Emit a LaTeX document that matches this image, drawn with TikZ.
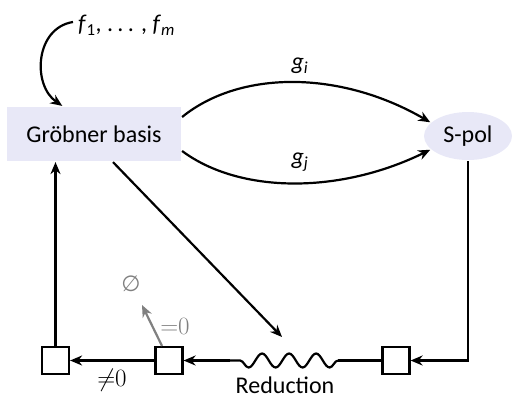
\documentclass[tikz,border=0pt]{standalone}
\usepackage{fontspec}
\setmainfont{Carlito}
\newfontfamily\symbolfont{DejaVu Sans}
\usetikzlibrary{arrows.meta,decorations.pathmorphing,shapes.geometric,calc}
\definecolor{boxfill}{RGB}{232,232,247}
\newcommand{\itsub}[2]{\textit{#1}\textsubscript{#2}}
\begin{document}
\begin{tikzpicture}[x=1pt,y=-1pt,
  font=\fontsize{24}{28}\selectfont,
  line width=2.2pt,
  arr/.style={-{Stealth[length=12pt,width=10pt]}},
  gbox/.style={rectangle,fill=boxfill,minimum width=174pt,minimum height=54pt,inner sep=0pt},
  spolnode/.style={ellipse,fill=boxfill,minimum width=88pt,minimum height=48pt,inner sep=0pt},
  sq/.style={draw,rectangle,fill=white,minimum size=27pt,inner sep=0pt},
  lbl/.style={inner sep=1pt},
  grayarr/.style={arr,draw=black!50},
  wave/.style={decorate,decoration={snake,amplitude=7pt,segment length=27pt}}]
  \useasboundingbox (0,0) rectangle (516,400);

  % main nodes
  \node[gbox] (gb) at (94,134) {Gröbner basis};
  \node[spolnode] (sp) at (468,136) {S-pol};
  \node[lbl,anchor=west] (fs) at (76,25)
    {\itsub{f}{1}, .\hspace{0.18em}.\hspace{0.18em}. , \itsub{f}{\textit{m}}};

  % input polynomials
  \draw[arr] ($(fs.west)+(-3,-3)$) .. controls (35,28) and (32,85) .. ($(gb.north west)!0.32!(gb.north east)$);

  % pairs g_i, g_j to the S-polynomial
  \draw[arr] ($(gb.east)+(0,-17)$) .. controls (240,70) and (340,70) .. (sp.160);
  \draw[arr] ($(gb.east)+(0,17)$) .. controls (240,194) and (340,194) .. (sp.200);
  \node[lbl] (gi) at (300,66) {\itsub{g}{\textit{i}}};
  \node[lbl] (gj) at (300,162) {\itsub{g}{\textit{j}}};

  % reduction loop
  \node[sq] (sq1) at (55.5,360.5) {};
  \node[sq] (sq2) at (169,360.5) {};
  \node[sq] (sq3) at (396,360.5) {};
  \coordinate (w1) at (338,360.5);
  \coordinate (w0) at (230,360.5);
  \coordinate (rin) at (282,337);

  \draw[arr] ($(gb.south)+(19,0)$) -- (rin);
  \draw[arr] (sp.south) |- (sq3.east);
  \draw (sq3.west) -- (w1);
  \draw[wave] (w1) -- (w0);
  \draw[arr] (w0) -- (sq2.east);
  \node[lbl] (red) at (285,385) {Reduction};

  \draw[arr] (sq2.west) -- (sq1.east);
  \node[lbl] (ne) at (112,380) {${\neq}0$};
  \draw[arr] (sq1.north) -- (sq1 |- gb.south);

  % zero remainder is discarded
  \coordinate (zt) at (142,305);
  \draw[grayarr] ($(sq2.north)+(-7,0)$) -- (zt);
  \node[lbl,text=black!50] (eq) at (175,326) {${=}0$};
  \node[lbl,text=black!50] (emp) at (131,284) {\symbolfont\fontsize{22}{24}\selectfont ∅};
\end{tikzpicture}
\end{document}
